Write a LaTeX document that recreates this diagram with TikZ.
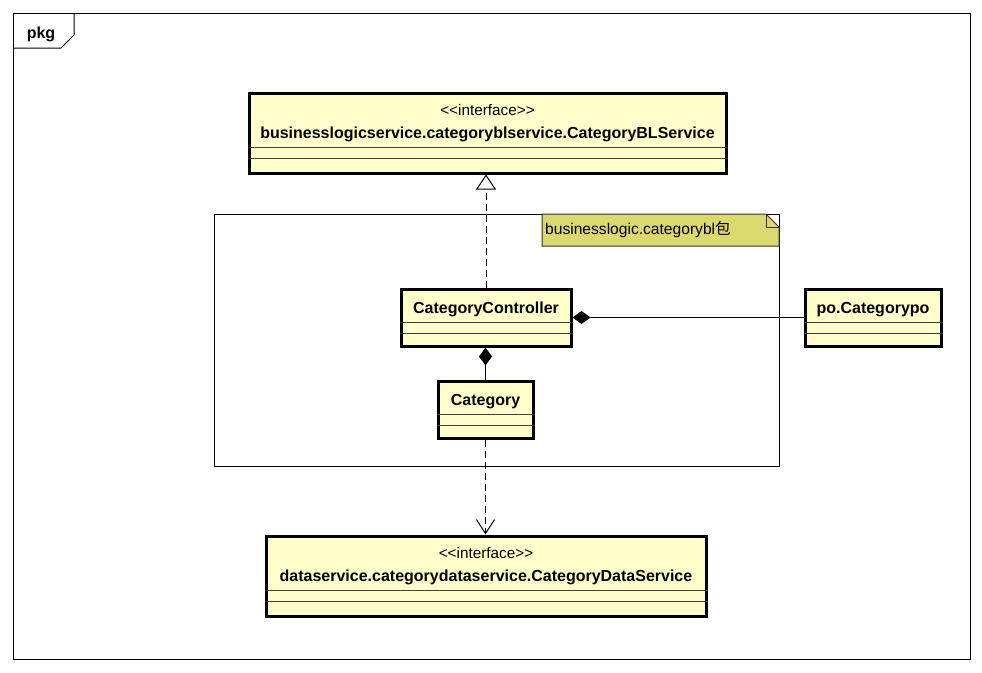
\documentclass[tikz,border=0pt]{standalone}
\usepackage{fontspec}
\newfontfamily\umlfont{Liberation Sans}
\newfontfamily\cjk{Noto Sans CJK SC}
\usepackage{tikz}
\usetikzlibrary{arrows.meta}

\definecolor{clsfill}{RGB}{255,255,204}
\definecolor{notefill}{RGB}{219,216,112}

\begin{document}
\begin{tikzpicture}[x=1pt, y=-1pt,
	cls/.style={rectangle, draw, line width=3pt, fill=clsfill, inner sep=0pt},
	clsname/.style={anchor=base, font=\umlfont\fontsize{16}{18}\selectfont\bfseries},
	stereo/.style={anchor=base, font=\umlfont\fontsize{15.3}{18}\selectfont},
	sep/.style={line width=1pt, black!75},
	comp/.style={line width=1pt, -{Diamond[length=18pt, width=13pt]}},
	real/.style={line width=1pt, dash pattern=on 7pt off 4pt, -{Triangle[open, length=15pt, width=20pt]}},
	dep/.style={line width=1pt, dash pattern=on 7pt off 4pt, -{Straight Barb[length=14pt, width=18pt]}}]
	
	\useasboundingbox (0,0) rectangle (982,672);
	
	% frame
	\draw [line width=1pt] (13,13) rectangle (970,659);
	\draw [line width=1pt] (13,48) -- (61,48) -- (74,35) -- (74,13);
	\node (pkg) [clsname] at (41,38) {pkg};
	
	\draw [line width=1pt] (214,214) rectangle (779,466);
	\filldraw [line width=1pt, fill=notefill, draw=black!80] (542,214) -- (766,214) -- (779,227) -- (779,246) -- (542,246) -- cycle;
	\draw [line width=1pt, black!80] (766,214) -- (766,227) -- (779,227);
	\node (note) [anchor=base west, inner sep=0pt, font=\umlfont\fontsize{15.6}{18}\selectfont] at (545,234) {businesslogic.categorybl{\cjk 包}};
	
	\foreach \n/\cx/\y/\w/\txt in {bl/487.5/93/477/businesslogicservice.categoryblservice.CategoryBLService, ds/486/536/440/dataservice.categorydataservice.CategoryDataService} {
		\node (\n) [cls, minimum width=\w, minimum height=80] at (\cx, \y+40) {};
		\node [stereo] at (\cx, \y+22) {<\kern0pt<interface>\kern0pt>};
		\node [clsname] at (\cx, \y+45) {\txt};
		\draw [sep] (\n.west |- 0,\y+54) -- (\n.east |- 0,\y+54);
		\draw [sep] (\n.west |- 0,\y+65) -- (\n.east |- 0,\y+65);
	}
	
	\foreach \n/\cx/\y/\w/\txt in {ctrl/486/289/170/CategoryController, cat/485.5/381/95/Category, po/873/289/136/po.Categorypo} {
		\node (\n) [cls, minimum width=\w, minimum height=57] at (\cx, \y+28.5) {};
		\node [clsname] at (\cx, \y+24) {\txt};
		\draw [sep] (\n.west |- 0,\y+33) -- (\n.east |- 0,\y+33);
		\draw [sep] (\n.west |- 0,\y+44) -- (\n.east |- 0,\y+44);
	}
	
	\draw [real] (ctrl.north) -- (ctrl.north |- bl.south);
	\draw [comp] (po.west) -- (ctrl.east);
	\draw [comp] (cat.north) -- (cat.north |- ctrl.south);
	\draw [dep] (cat.south) -- (cat.south |- ds.north);
	
\end{tikzpicture}
\end{document}
